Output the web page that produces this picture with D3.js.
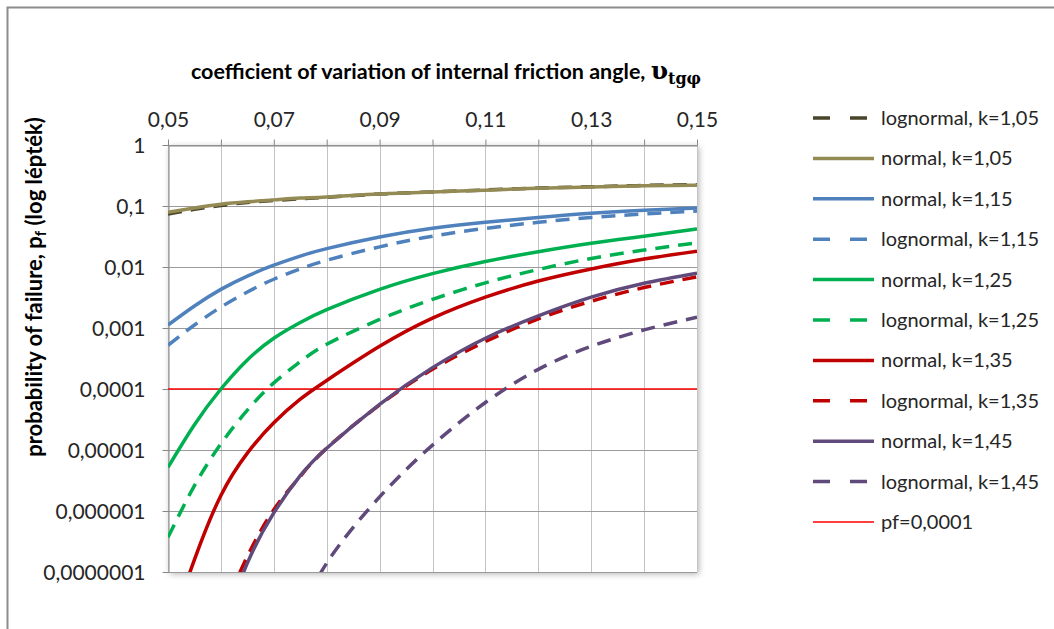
<!DOCTYPE html>
<html>
<head>
<meta charset="utf-8">
<script src="https://cdn.jsdelivr.net/npm/d3@7"></script>
<style>
  body { margin: 0; background: #fff; }
  text { font-family: Lato, "Noto Sans", sans-serif; }
</style>
</head>
<body>
<div class="chart"></div>
<script>
// x values (coefficient of variation)
const xs = [0.05, 0.055, 0.06, 0.065, 0.07, 0.075, 0.08, 0.09, 0.10, 0.11, 0.12, 0.13, 0.14, 0.15];

// probability of failure
const logn105 = [0.074, 0.088, 0.102, 0.114, 0.123, 0.132, 0.139, 0.157, 0.170, 0.183, 0.197, 0.207, 0.217, 0.224];
const norm105 = [0.079, 0.093, 0.107, 0.117, 0.126, 0.135, 0.141, 0.158, 0.170, 0.182, 0.195, 0.204, 0.214, 0.219];
const norm115 = [1.12e-3, 2.3e-3, 4.3e-3, 7.1e-3, 1.07e-2, 1.51e-2, 2.0e-2, 3.1e-2, 4.3e-2, 5.4e-2, 6.5e-2, 7.6e-2, 8.5e-2, 9.3e-2];
const logn115 = [5.2e-4, 1.12e-3, 2.2e-3, 3.9e-3, 6.3e-3, 9.3e-3, 1.29e-2, 2.14e-2, 3.2e-2, 4.3e-2, 5.4e-2, 6.5e-2, 7.4e-2, 8.3e-2];
const norm125 = [5.2e-6, 2.6e-5, 1.0e-4, 3.0e-4, 6.8e-4, 1.23e-3, 2.0e-3, 4.3e-3, 7.8e-3, 1.23e-2, 1.78e-2, 2.45e-2, 3.2e-2, 4.2e-2];
const logn125 = [3.7e-7, 2.6e-6, 1.26e-5, 4.5e-5, 1.26e-4, 2.8e-4, 5.4e-4, 1.38e-3, 2.95e-3, 5.5e-3, 9.1e-3, 1.38e-2, 1.9e-2, 2.5e-2];
const norm135 = [9e-9, 1.6e-7, 1.8e-6, 8.9e-6, 2.8e-5, 6.8e-5, 1.38e-4, 5.0e-4, 1.45e-3, 3.2e-3, 5.9e-3, 9.3e-3, 1.35e-2, 1.82e-2];
const logn135 = [null, null, 2e-8, 1.8e-7, 1.05e-6, 3.7e-6, 1.07e-5, 5.5e-5, 2.1e-4, 6.0e-4, 1.41e-3, 2.75e-3, 4.6e-3, 6.9e-3];
const norm145 = [null, null, 1e-8, 1.4e-7, 9.3e-7, 3.8e-6, 1.07e-5, 5.6e-5, 2.24e-4, 6.8e-4, 1.58e-3, 3.2e-3, 5.4e-3, 7.9e-3];
const logn145 = [null, null, null, null, null, 1.8e-8, 1.4e-7, 1.7e-6, 1.2e-5, 6.0e-5, 2.1e-4, 5.0e-4, 9.3e-4, 1.5e-3];
const pfLimit = 0.0001;

// axis ticks and labels
const xTicks = [0.05, 0.06, 0.07, 0.08, 0.09, 0.10, 0.11, 0.12, 0.13, 0.14, 0.15];
const xTickLabels = ["0,05", "", "0,07", "", "0,09", "", "0,11", "", "0,13", "", "0,15"];
const yTicks = [1, 0.1, 0.01, 0.001, 0.0001, 0.00001, 0.000001, 0.0000001];
const yTickLabels = ["1", "0,1", "0,01", "0,001", "0,0001", "0,00001", "0,000001", "0,0000001"];

const series = [
  { name: "lognormal, k=1,05", values: logn105, color: "#4a452a", dash: true },
  { name: "normal, k=1,05", values: norm105, color: "#948a54", dash: false },
  { name: "normal, k=1,15", values: norm115, color: "#4f81bd", dash: false },
  { name: "lognormal, k=1,15", values: logn115, color: "#4f81bd", dash: true },
  { name: "normal, k=1,25", values: norm125, color: "#00b050", dash: false },
  { name: "lognormal, k=1,25", values: logn125, color: "#00b050", dash: true },
  { name: "normal, k=1,35", values: norm135, color: "#c00000", dash: false },
  { name: "lognormal, k=1,35", values: logn135, color: "#c00000", dash: true },
  { name: "normal, k=1,45", values: norm145, color: "#604a7b", dash: false },
  { name: "lognormal, k=1,45", values: logn145, color: "#604a7b", dash: true }
];

const W = 1054, H = 629;
const plot = { left: 168, right: 697, top: 145, bottom: 572 };

const svg = d3.select("div.chart")
  .append("svg")
  .attr("width", W)
  .attr("height", H);

// outer chart frame (right/bottom run off the picture)
svg.append("path")
  .attr("d", `M7.5,${H} V7.5 H${W}`)
  .attr("fill", "none")
  .attr("stroke", "#8c8c8c")
  .attr("stroke-width", 2);

const defs = svg.append("defs");
defs.append("filter").attr("id", "shadow")
  .attr("x", "-5%").attr("y", "-5%").attr("width", "110%").attr("height", "110%")
  .append("feDropShadow")
  .attr("dx", 2).attr("dy", 2).attr("stdDeviation", 3)
  .attr("flood-color", "#000").attr("flood-opacity", 0.3);
defs.append("clipPath").attr("id", "clip")
  .append("rect")
  .attr("x", plot.left).attr("y", plot.top)
  .attr("width", plot.right - plot.left).attr("height", plot.bottom - plot.top);

const x = d3.scaleLinear().domain([0.05, 0.15]).range([plot.left, plot.right]);
const y = d3.scaleLog().domain([1e-7, 1]).range([plot.bottom, plot.top]);

// plot area with shadow
svg.append("rect")
  .attr("x", plot.left).attr("y", plot.top)
  .attr("width", plot.right - plot.left).attr("height", plot.bottom - plot.top)
  .attr("fill", "#fff")
  .attr("filter", "url(#shadow)");

// gridlines
svg.append("g")
  .selectAll("line")
  .data(xTicks)
  .enter().append("line")
  .attr("x1", d => Math.round(x(d)) + 0.5).attr("x2", d => Math.round(x(d)) + 0.5)
  .attr("y1", plot.top).attr("y2", plot.bottom)
  .attr("stroke", "#c4c4c4");
svg.append("g")
  .selectAll("line")
  .data(yTicks)
  .enter().append("line")
  .attr("x1", plot.left).attr("x2", plot.right)
  .attr("y1", d => Math.round(y(d)) + 0.5).attr("y2", d => Math.round(y(d)) + 0.5)
  .attr("stroke", "#9a9a9a");

// axes
const xAxis = svg.append("g")
  .attr("transform", `translate(0,${plot.top + 0.5})`)
  .call(d3.axisTop(x).tickValues(xTicks).tickSize(6).tickSizeOuter(0)
    .tickFormat((d, i) => xTickLabels[i]));
const yAxis = svg.append("g")
  .attr("transform", `translate(${plot.left + 0.5},0)`)
  .call(d3.axisLeft(y).tickValues(yTicks).tickSize(6).tickSizeOuter(0)
    .tickFormat((d, i) => yTickLabels[i]));

[xAxis, yAxis].forEach(g => {
  g.select(".domain").attr("stroke", "#868686");
  g.selectAll(".tick line").attr("stroke", "#868686");
  g.selectAll(".tick text")
    .attr("font-family", "Lato, 'Noto Sans', sans-serif")
    .attr("font-size", 21)
    .attr("fill", "#262626");
});
xAxis.selectAll(".tick text").attr("y", -12).attr("dy", "-0.3em");
yAxis.selectAll(".tick text").attr("x", -23).attr("dy", "0.36em");

// series lines
const line = d3.line()
  .defined(d => d.v != null)
  .x(d => x(d.x))
  .y(d => y(d.v))
  .curve(d3.curveNatural);

const lines = svg.append("g").attr("clip-path", "url(#clip)");

lines.append("line")
  .attr("x1", x(0.05)).attr("x2", x(0.15))
  .attr("y1", y(pfLimit)).attr("y2", y(pfLimit))
  .attr("stroke", "#ff0000")
  .attr("stroke-width", 1.5);

series.forEach(s => {
  lines.append("path")
    .datum(xs.map((xv, i) => ({ x: xv, v: s.values[i] })))
    .attr("d", line)
    .attr("fill", "none")
    .attr("stroke", s.color)
    .attr("stroke-width", 3.5)
    .attr("stroke-dasharray", s.dash ? "14,9" : null);
});

// legend
const legendItems = series.concat([{ name: "pf=0,0001", color: "#ff0000", dash: false, thin: true }]);
const legend = svg.append("g")
  .selectAll("g")
  .data(legendItems)
  .enter().append("g")
  .attr("transform", (d, i) => `translate(0,${118 + i * 40.4})`);
legend.append("line")
  .attr("x1", 813).attr("x2", 874)
  .attr("stroke", d => d.color)
  .attr("stroke-width", d => d.thin ? 1.5 : 3.5)
  .attr("stroke-dasharray", d => d.dash ? "17,20" : null);
legend.append("text")
  .attr("x", 881)
  .attr("dy", "0.35em")
  .attr("font-size", 20)
  .attr("fill", "#262626")
  .text(d => d.name);

// x axis title
const title = svg.append("text")
  .attr("x", 446).attr("y", 79)
  .attr("text-anchor", "middle")
  .attr("font-size", 21.5)
  .attr("font-weight", "bold")
  .attr("fill", "#000");
title.append("tspan").text("coefficient of variation of internal friction angle, ");
title.append("tspan")
  .attr("font-family", "'DejaVu Serif', serif")
  .attr("font-size", 25)
  .text("υ");
title.append("tspan")
  .attr("font-family", "'DejaVu Serif', serif")
  .attr("font-size", 16)
  .attr("dy", 5)
  .text("tgφ");

// y axis title
const ytitle = svg.append("text")
  .attr("transform", "translate(42,287) rotate(-90)")
  .attr("text-anchor", "middle")
  .attr("font-size", 22)
  .attr("font-weight", "bold")
  .attr("fill", "#000");
ytitle.append("tspan").text("probability of failure, p");
ytitle.append("tspan").attr("font-size", 15).attr("dy", 4).text("f");
ytitle.append("tspan").attr("dy", -4).text(" (log lépték)");
</script>
</body>
</html>
